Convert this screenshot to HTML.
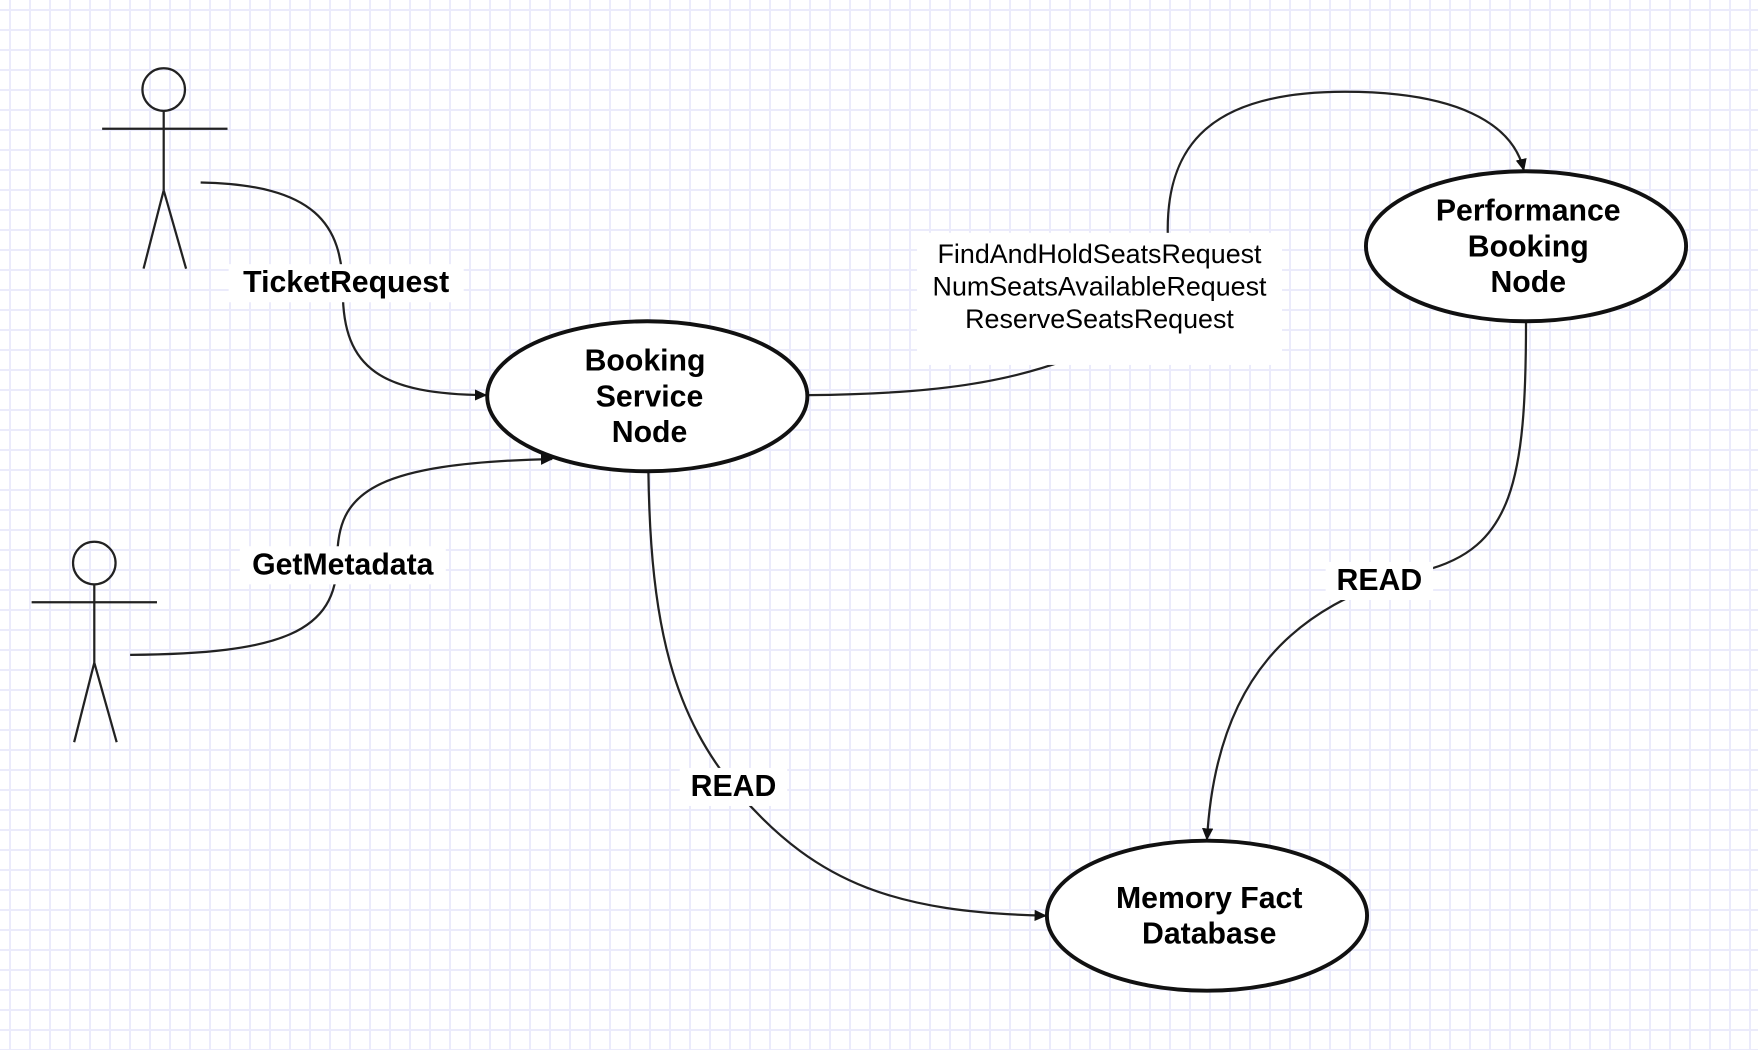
<!DOCTYPE html>
<html><head><meta charset="utf-8"><style>
html,body{margin:0;padding:0}
body{width:1758px;height:1050px;overflow:hidden;background-color:#fff;
background-image:linear-gradient(to right,#ebebfb 2px,transparent 2px),linear-gradient(to bottom,#ebebfb 2px,transparent 2px);
background-size:20px 20px;background-position:9px 9px;}
svg{position:absolute;left:0;top:0}
text{font-family:"Liberation Sans",Arial,sans-serif;fill:#000}
.b{font-weight:bold;font-size:27px}
.n{font-size:24px}
</style></head><body>
<svg width="1758" height="1050" viewBox="0 0 1568 938">
<defs><marker id="a" markerWidth="12" markerHeight="12" refX="10" refY="5" orient="auto" markerUnits="userSpaceOnUse"><path d="M0,0 L11,5 L0,10 z" fill="#111"/></marker></defs>
<g stroke="#222" stroke-width="2" fill="none">
<circle cx="145" cy="80" r="19"/>
<line x1="145" y1="99" x2="145" y2="170"/>
<line x1="90" y1="115" x2="202" y2="115"/>
<line x1="145" y1="170" x2="127" y2="240"/>
<line x1="145" y1="170" x2="165" y2="240"/>
<circle cx="83" cy="503" r="19"/>
<line x1="83" y1="522" x2="83" y2="592"/>
<line x1="27" y1="538" x2="139" y2="538"/>
<line x1="83" y1="592" x2="65" y2="663"/>
<line x1="83" y1="592" x2="103" y2="663"/>
<path d="M178,163 C280,165 305,200 305,260 C305,330 340,352 433,353" marker-end="url(#a)"/>
<path d="M115,585 C250,584 300,565 300,500 C300,440 330,414 492,410" marker-end="url(#a)"/>
<path d="M721,353 C840,352 900,340 950,322"/>
<path d="M1042,210 C1040,130 1080,82 1200,82 C1300,82 1350,110 1360,152" marker-end="url(#a)"/>
<path d="M578,422 C580,560 600,640 660,710 C730,790 800,815 933,818" marker-end="url(#a)"/>
<path d="M1362,287 C1362,430 1350,490 1270,510 C1150,540 1085,610 1077,750" marker-end="url(#a)"/>
</g>
<g stroke="#111" stroke-width="3.5" fill="#fff">
<ellipse cx="577" cy="354" rx="143" ry="67"/>
<ellipse cx="1362" cy="220" rx="143" ry="67"/>
<ellipse cx="1077" cy="818" rx="143" ry="67"/>
</g>
<g class="b" text-anchor="middle">
<text x="575" y="331">Booking</text><text x="579" y="363">Service</text><text x="579" y="395">Node</text>
<text x="1364" y="197">Performance</text><text x="1364" y="229">Booking</text><text x="1364" y="261">Node</text>
<text x="1079" y="811">Memory Fact</text><text x="1079" y="843">Database</text>
</g>
<rect x="203" y="236" width="210" height="34" fill="#fff"/>
<text class="b" x="308" y="261" text-anchor="middle">TicketRequest</text>
<rect x="213" y="488" width="184" height="34" fill="#fff"/>
<text class="b" x="305" y="513" text-anchor="middle">GetMetadata</text>
<rect x="606" y="686" width="96" height="34" fill="#fff"/>
<text class="b" x="654" y="711" text-anchor="middle">READ</text>
<rect x="1183" y="502" width="96" height="34" fill="#fff"/>
<text class="b" x="1231" y="527" text-anchor="middle">READ</text>
<rect x="818" y="208" width="326" height="118" fill="#fff"/>
<g class="n" text-anchor="middle">
<text x="981" y="235">FindAndHoldSeatsRequest</text>
<text x="981" y="264">NumSeatsAvailableRequest</text>
<text x="981" y="293">ReserveSeatsRequest</text>
</g>
</svg>
</body></html>
